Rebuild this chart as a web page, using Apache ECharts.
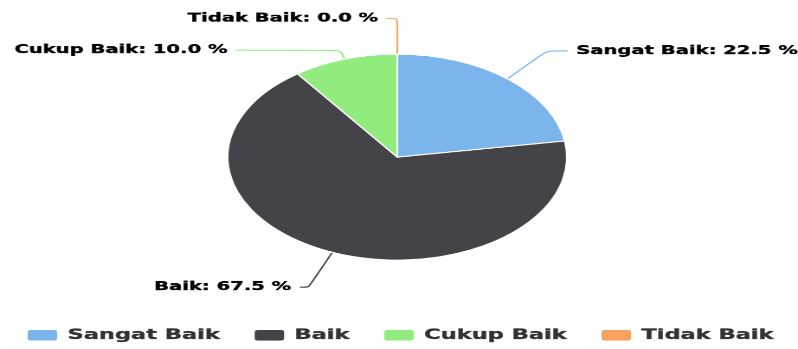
<!DOCTYPE html>
<html>
<head>
<meta charset="utf-8">
<script src="https://cdn.jsdelivr.net/npm/echarts@6/dist/echarts.min.js"></script>
<style>
  html, body { margin: 0; padding: 0; background: #fff; overflow: hidden; }
  #wrap { width: 798px; height: 349px; overflow: hidden; position: relative; }
  /* the chart is laid out on a narrower canvas and stretched to fill the frame */
  #chart { width: 461px; height: 332px; transform: scale(1.731, 1.051); transform-origin: 0 0; }
</style>
</head>
<body>
<div id="wrap"><div id="chart"></div></div>
<script>
// Penilaian kategori (persen)
const categories = ['Sangat Baik', 'Baik', 'Cukup Baik', 'Tidak Baik'];
const percentages = [22.5, 67.5, 10.0, 0.0];

// Palette and connector geometry for each slice
const palette = ['#7cb5ec', '#434348', '#90ed7d', '#f7a35c'];
const connectorLength = [35, 36, 9, 34];
const connectorLength2 = [12, 5, 60, 6];

const FONT = '"DejaVu Sans", Verdana, sans-serif';

const pieData = categories.map((name, i) => ({
  name,
  value: percentages[i],
  itemStyle: { color: palette[i] },
  labelLine: { length: connectorLength[i], length2: connectorLength2[i] }
}));

const chart = echarts.init(document.getElementById('chart'), null, { renderer: 'canvas', devicePixelRatio: 2 });
chart.setOption({
  animation: false,
  backgroundColor: '#ffffff',
  legend: {
    bottom: 6,
    left: 'center',
    width: 461,
    padding: 0,
    itemWidth: 19,
    itemHeight: 12,
    itemGap: 18,
    icon: 'roundRect',
    textStyle: {
      fontFamily: FONT, fontWeight: 'bold', fontSize: 13, color: '#333333',
      textBorderColor: '#333333', textBorderWidth: 0.3
    },
    data: categories
  },
  series: [{
    type: 'pie',
    center: [229.5, 149.5],
    radius: [0, 98],
    startAngle: 90,
    clockwise: true,
    avoidLabelOverlap: false,
    emphasis: { disabled: true },
    itemStyle: { borderColor: '#ffffff', borderWidth: 1 },
    label: {
      show: true,
      position: 'outside',
      fontFamily: FONT,
      fontWeight: 'bold',
      fontSize: 11.3,
      color: '#000000',
      textBorderColor: '#000000',
      textBorderWidth: 0.3,
      formatter: p => `${p.name}: ${p.value.toFixed(1)} %`
    },
    labelLine: { show: true, smooth: 0.2, lineStyle: { width: 1 } },
    data: pieData
  }]
});
</script>
</body>
</html>
